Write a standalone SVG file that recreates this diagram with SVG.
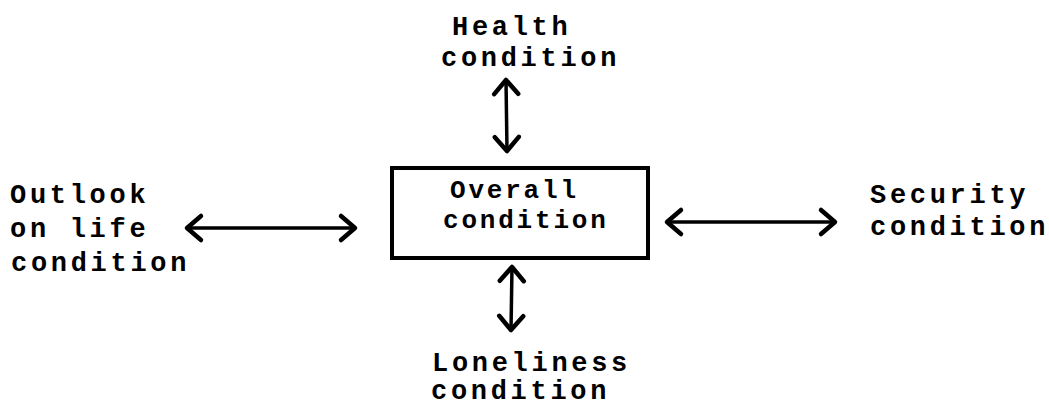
<svg xmlns="http://www.w3.org/2000/svg" width="1049" height="405" viewBox="0 0 1049 405">
<style>
  text { font-family: "Liberation Mono", "Courier New", monospace; font-weight: bold; font-size: 27px; letter-spacing: 3.7px; fill: #000; }
  .box text { font-size: 26px; letter-spacing: 2.8px; }
  .conn line { stroke: #000; stroke-width: 3.5; fill: none; }
</style>
<defs>
  <marker id="chev" markerUnits="userSpaceOnUse" viewBox="-20 -16 24 32" markerWidth="24" markerHeight="32" refX="0" refY="0" orient="auto-start-reverse">
    <path d="M -14 -12 L 0 0 L -14 12" fill="none" stroke="#000" stroke-width="4.5" stroke-linecap="round" stroke-linejoin="round"/>
  </marker>
</defs>
<rect width="1049" height="405" fill="#fff"/>
<g id="overall" class="box">
  <rect x="392" y="168" width="256" height="90" fill="none" stroke="#000" stroke-width="4"/>
  <text x="450" y="198">Overall</text>
  <text x="443" y="228">condition</text>
</g>
<g id="health">
  <text x="452" y="35">Health</text>
  <text x="441" y="66">condition</text>
</g>
<g id="outlook">
  <text x="10" y="203">Outlook</text>
  <text x="10" y="237">on life</text>
  <text x="11" y="271">condition</text>
</g>
<g id="security">
  <text x="870" y="203">Security</text>
  <text x="870" y="235">condition</text>
</g>
<g id="loneliness">
  <text x="432" y="371">Loneliness</text>
  <text x="431" y="399">condition</text>
</g>
<g id="connectors" class="conn">
  <line x1="506" y1="80" x2="507" y2="151" marker-start="url(#chev)" marker-end="url(#chev)"/>
  <line x1="512" y1="267" x2="511" y2="330" marker-start="url(#chev)" marker-end="url(#chev)"/>
  <line x1="187" y1="228" x2="355" y2="228" marker-start="url(#chev)" marker-end="url(#chev)"/>
  <line x1="667" y1="222" x2="835" y2="222" marker-start="url(#chev)" marker-end="url(#chev)"/>
</g>
</svg>
